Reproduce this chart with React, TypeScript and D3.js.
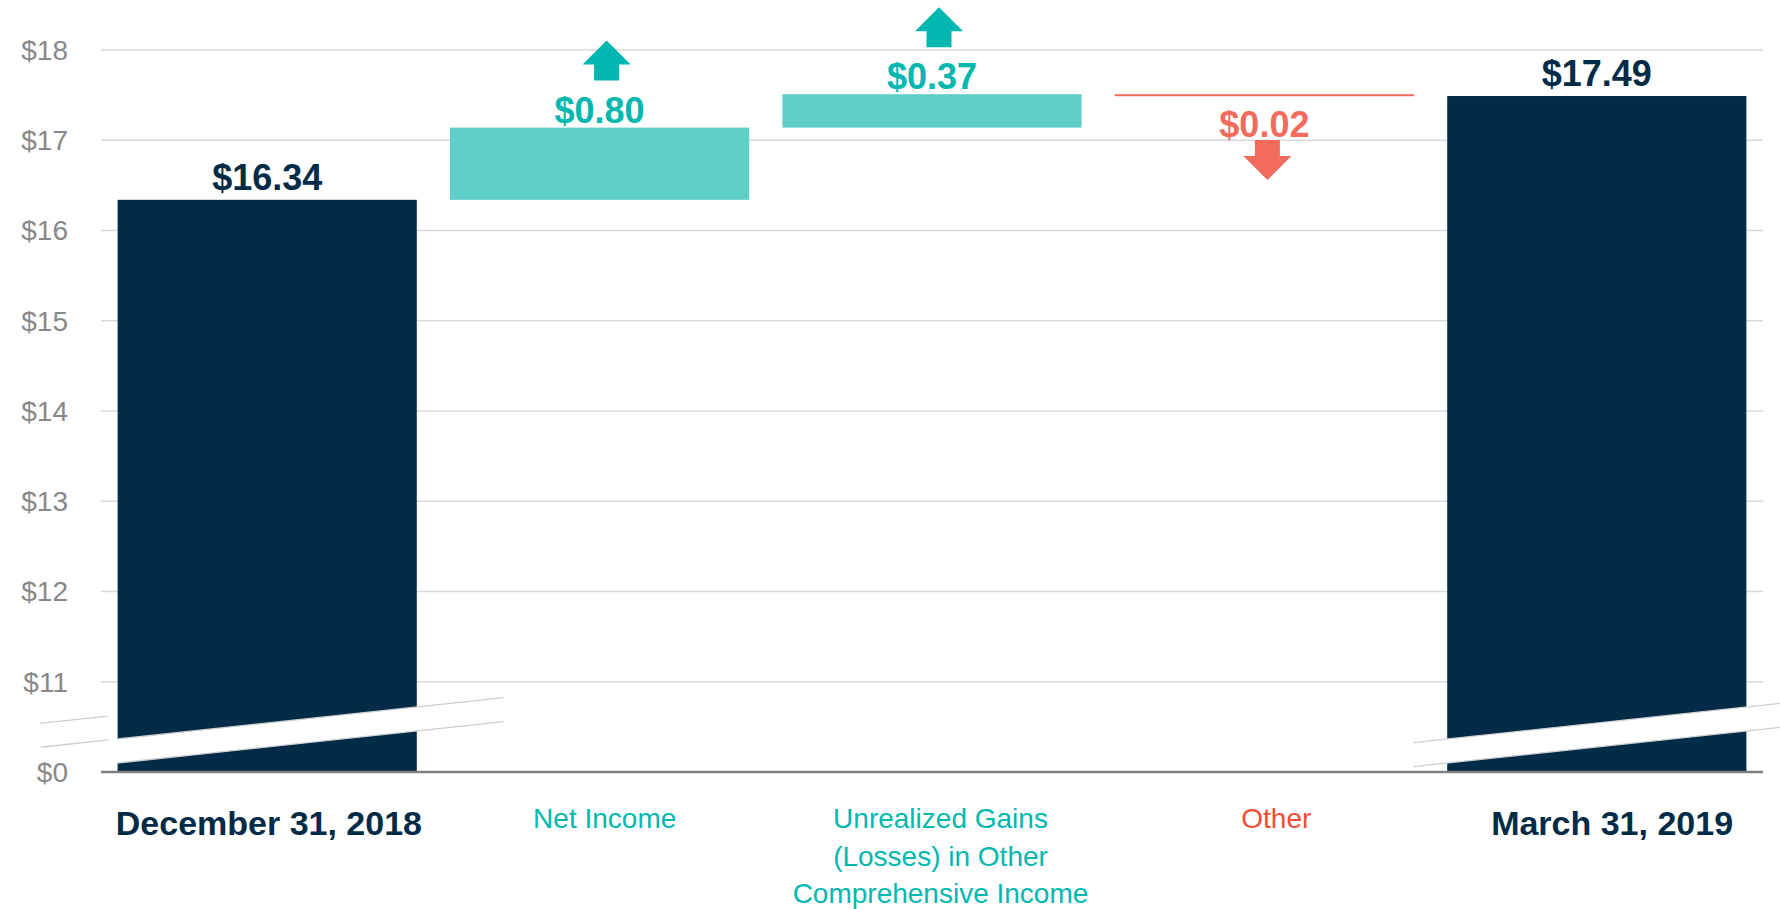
import React, {useRef, useEffect} from 'react';
import * as d3 from 'd3';

// waterfall: book value per share bridge
const categories = ['dec', 'netIncome', 'unrealized', 'other', 'mar'];
const categoryLines = [
    ['December 31, 2018'],
    ['Net Income'],
    ['Unrealized Gains', '(Losses) in Other', 'Comprehensive Income'],
    ['Other'],
    ['March 31, 2019']
];
const kinds = ['total', 'up', 'up', 'down', 'total'];
const values = [16.34, 0.80, 0.37, -0.02, 17.49];
const valueLabels = ['$16.34', '$0.80', '$0.37', '$0.02', '$17.49'];

// axis is broken: the bottom tick stands for $0
const tickValues = [10, 11, 12, 13, 14, 15, 16, 17, 18];
const tickLabels = ['$0', '$11', '$12', '$13', '$14', '$15', '$16', '$17', '$18'];

const config = {
    w: 1780,
    h: 909,
    font: '"Liberation Sans", Arial, sans-serif',
    navy: '#022b48',
    tealBar: '#5ecfc8',
    teal: '#00b8b0',
    red: '#f26b5b',
    redLabel: '#ef4c36',
    grid: '#d9d9d9',
    tick: '#888888'
};

const App = () => {
    const svgRef = useRef(null);

    useEffect(() => {
        const svg = d3.select(svgRef.current)
            .attr('width', config.w)
            .attr('height', config.h);
        svg.selectAll('*').remove();

        const base = tickValues[0];
        const x = d3.scaleBand()
            .domain(categories)
            .range([101, 1763])
            .paddingInner(0.1)
            .paddingOuter(0.05);
        // labels are spread over the full width
        const xLabel = d3.scaleBand()
            .domain(categories)
            .range([101, 1780])
            .paddingInner(0.1)
            .paddingOuter(0.05);
        const y = d3.scaleLinear()
            .domain([base, 18])
            .range([772, 50]);

        // running totals for the floating bars
        let running = 0;
        const bars = categories.map((c, i) => {
            let lo, hi;
            if (kinds[i] === 'total') {
                lo = base; hi = values[i]; running = values[i];
            } else {
                const next = running + values[i];
                lo = Math.min(running, next); hi = Math.max(running, next);
                running = next;
            }
            return {c, i, lo, hi, kind: kinds[i]};
        });

        // gridlines
        svg.append('g').selectAll('line')
            .data(tickValues.slice(1))
            .join('line')
            .attr('x1', x.range()[0])
            .attr('x2', x.range()[1])
            .attr('y1', d => y(d))
            .attr('y2', d => y(d))
            .attr('stroke', config.grid)
            .attr('stroke-width', 1.5);

        // tick labels
        svg.append('g').selectAll('text')
            .data(tickValues)
            .join('text')
            .attr('x', 68)
            .attr('y', d => y(d))
            .attr('dy', '0.35em')
            .attr('text-anchor', 'end')
            .attr('font-family', config.font)
            .attr('font-size', 28)
            .attr('fill', config.tick)
            .text((d, i) => tickLabels[i]);

        // bars
        const colorOf = k => k === 'total' ? config.navy : k === 'up' ? config.tealBar : config.red;
        svg.append('g').selectAll('rect')
            .data(bars)
            .join('rect')
            .attr('x', d => x(d.c))
            .attr('width', x.bandwidth())
            .attr('y', d => y(d.hi))
            .attr('height', d => Math.max(2, y(d.lo) - y(d.hi)))
            .attr('fill', d => colorOf(d.kind));

        // baseline
        svg.append('line')
            .attr('x1', x.range()[0])
            .attr('x2', x.range()[1])
            .attr('y1', y(base))
            .attr('y2', y(base))
            .attr('stroke', '#808080')
            .attr('stroke-width', 2.5);

        // axis break bands on the total bars
        const slope = -0.107, thick = 24, y0 = y(base);
        const edge = (x0, xx, off) => y0 - 33 + off + slope * (xx - x0);
        const brk = svg.append('g');
        bars.filter(d => d.kind === 'total').forEach((d, k) => {
            const x0 = x(d.c), x1 = x0 + x.bandwidth();
            const first = k === 0;
            const right = first ? x1 + 87 : config.w;
            const a = x0 - 2, b = x1 + 2;
            const fill = [[a, edge(x0, a, 0)], [b, edge(x0, b, 0)],
                [b, edge(x0, b, thick)], [a, edge(x0, a, thick)]];
            brk.append('polygon')
                .attr('points', fill.map(p => p.join(',')).join(' '))
                .attr('fill', '#fff');
            const seg = (p, q, off) => brk.append('line')
                .attr('x1', p).attr('x2', q)
                .attr('y1', edge(x0, p, off)).attr('y2', edge(x0, q, off))
                .attr('stroke', '#cfcfcf').attr('stroke-width', 1.3);
            if (first) {
                seg(x0, right, 0);
                seg(x0, right, thick);
                seg(x0 - 77, x0 - 9, 0);
                seg(x0 - 78, x0 - 10, -thick);
            } else {
                seg(x0 - 34, right, 0);
                seg(x0 - 34, right, thick);
            }
        });

        // value labels + arrows
        const lab = svg.append('g')
            .attr('font-family', config.font)
            .attr('font-weight', 'bold')
            .attr('font-size', 36)
            .attr('text-anchor', 'middle');
        bars.forEach(d => {
            const cx = x(d.c) + x.bandwidth() / 2;
            if (d.kind === 'total') {
                lab.append('text').attr('x', cx).attr('y', y(d.hi) - 10)
                    .attr('fill', config.navy).text(valueLabels[d.i]);
            } else if (d.kind === 'up') {
                const by = y(d.hi) - 5;
                lab.append('text').attr('x', cx).attr('y', by)
                    .attr('fill', config.teal).text(valueLabels[d.i]);
                const ax = cx + 7, top = by - 82;
                const pts = [[ax, top], [ax + 24, top + 24], [ax + 12.5, top + 24], [ax + 12.5, top + 40],
                    [ax - 12.5, top + 40], [ax - 12.5, top + 24], [ax - 24, top + 24]];
                lab.append('polygon').attr('points', pts.map(p => p.join(',')).join(' '))
                    .attr('fill', config.teal);
            } else {
                const by = y(d.lo) + 41;
                lab.append('text').attr('x', cx).attr('y', by)
                    .attr('fill', config.red).text(valueLabels[d.i]);
                const ax = cx + 3, top = by + 3;
                const pts = [[ax - 12.5, top], [ax + 12.5, top], [ax + 12.5, top + 16], [ax + 24, top + 16],
                    [ax, top + 40], [ax - 24, top + 16], [ax - 12.5, top + 16]];
                lab.append('polygon').attr('points', pts.map(p => p.join(',')).join(' '))
                    .attr('fill', config.red);
            }
        });

        // category labels
        const cat = svg.append('g')
            .attr('font-family', config.font)
            .attr('text-anchor', 'middle');
        bars.forEach(d => {
            const cx = xLabel(d.c) + xLabel.bandwidth() / 2;
            const isTotal = d.kind === 'total';
            const t = cat.append('text')
                .attr('x', cx)
                .attr('y', isTotal ? 835 : 828)
                .attr('font-size', isTotal ? 34 : 28)
                .attr('font-weight', isTotal ? 'bold' : 'normal')
                .attr('fill', isTotal ? config.navy : d.kind === 'up' ? config.teal : config.redLabel);
            categoryLines[d.i].forEach((line, j) => {
                t.append('tspan').attr('x', cx).attr('dy', j === 0 ? 0 : 37.5).text(line);
            });
        });
    }, []);

    return (
        <div style={{position: 'absolute', left: 0, top: 0}}>
            <svg ref={svgRef} style={{display: 'block'}}></svg>
        </div>
    );
};

export default App;
